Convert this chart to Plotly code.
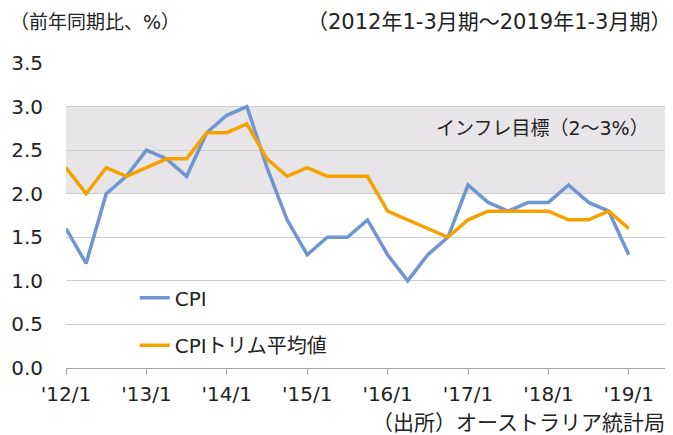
import plotly.graph_objects as go

quarters = list(range(29))
tick_vals = [0, 4, 8, 12, 16, 20, 24, 28]
tick_text = ["'12/1", "'13/1", "'14/1", "'15/1", "'16/1", "'17/1", "'18/1", "'19/1"]

cpi = [1.6, 1.2, 2.0, 2.2, 2.5, 2.4, 2.2, 2.7, 2.9, 3.0, 2.3, 1.7, 1.3, 1.5, 1.5,
       1.7, 1.3, 1.0, 1.3, 1.5, 2.1, 1.9, 1.8, 1.9, 1.9, 2.1, 1.9, 1.8, 1.3]
cpi_trim = [2.3, 2.0, 2.3, 2.2, 2.3, 2.4, 2.4, 2.7, 2.7, 2.8, 2.4, 2.2, 2.3, 2.2, 2.2,
            2.2, 1.8, 1.7, 1.6, 1.5, 1.7, 1.8, 1.8, 1.8, 1.8, 1.7, 1.7, 1.8, 1.6]
target_low, target_high = 2.0, 3.0

FONT = "DejaVu Sans, Noto Sans CJK JP, sans-serif"

fig = go.Figure()
fig.add_trace(go.Scatter(x=quarters, y=cpi, mode="lines", name="CPI",
                         line=dict(color="#6f96d2", width=3.5), legend="legend"))
fig.add_trace(go.Scatter(x=quarters, y=cpi_trim, mode="lines", name="CPIトリム平均値",
                         line=dict(color="#f5a200", width=3.5), legend="legend2"))

fig.add_shape(type="rect", xref="paper", x0=0, x1=1, yref="y", y0=target_low, y1=target_high,
              fillcolor="#e7e5e7", line=dict(width=0), layer="below")

# page body has an 8px margin, so the figure is 8px smaller and margins shifted
fig.update_layout(
    width=665, height=427,
    margin=dict(l=58, r=4, t=55, b=67, autoexpand=False),
    plot_bgcolor="white", paper_bgcolor="white",
    font=dict(family=FONT, size=20, color="#222222"),
    showlegend=True,
    legend=dict(x=0.114, y=0.23, xanchor="left", yanchor="middle", bgcolor="rgba(0,0,0,0)",
                font=dict(size=20)),
    legend2=dict(x=0.114, y=0.075, xanchor="left", yanchor="middle", bgcolor="rgba(0,0,0,0)",
                 font=dict(size=20)),
    xaxis=dict(range=[0, 30], tickvals=tick_vals, ticktext=tick_text, automargin=False,
               showgrid=False, zeroline=False, showline=True, linecolor="#a6a6a6", linewidth=1,
               ticks="outside", ticklen=6, tickcolor="#a6a6a6", ticklabelstandoff=2),
    yaxis=dict(range=[0, 3.5], dtick=0.5, tickformat=".1f", showgrid=True, gridcolor="#cdcdcd",
               gridwidth=1, zeroline=False, showline=False, ticks="outside", ticklen=18,
               tickcolor="rgba(0,0,0,0)", automargin=False),
    annotations=[
        dict(text="（前年同期比、%）", xref="paper", yref="paper", x=-0.0955, y=1.136,
             xanchor="left", yanchor="middle", showarrow=False, font=dict(size=19)),
        dict(text="（2012年1-3月期～2019年1-3月期）", xref="paper", yref="paper", x=0.396, y=1.136,
             xanchor="left", yanchor="middle", showarrow=False, font=dict(size=21)),
        dict(text="インフレ目標（2～3%）", xref="paper", yref="paper", x=0.610, y=0.788,
             xanchor="left", yanchor="middle", showarrow=False, font=dict(size=19)),
        dict(text="（出所）オーストラリア統計局", xref="paper", yref="paper", x=0.504, y=-0.18,
             xanchor="left", yanchor="middle", showarrow=False, font=dict(size=21)),
    ],
)

fig.write_html("out.html")
